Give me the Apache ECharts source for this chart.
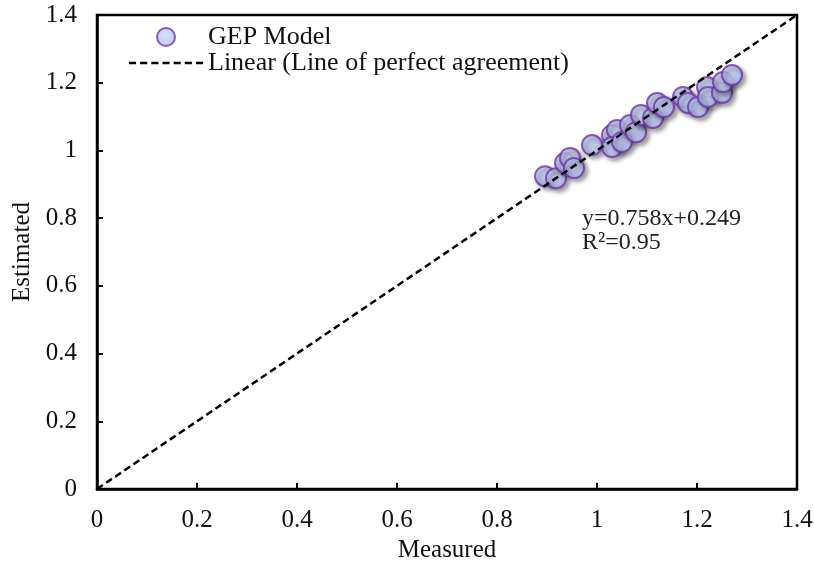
<!DOCTYPE html>
<html>
<head>
<meta charset="utf-8">
<script src="https://cdn.jsdelivr.net/npm/echarts@6/dist/echarts.min.js"></script>
<style>
html, body { margin: 0; padding: 0; background: #fff; }
#chart { width: 814px; height: 563px; }
</style>
</head>
<body>
<div id="chart"></div>
<script>
// measured vs estimated
var measured  = [0.896, 0.918, 0.936, 0.946, 0.954, 0.99, 1.03, 1.04, 1.03, 1.05, 1.066, 1.078, 1.088, 1.112, 1.12, 1.134, 1.172, 1.182, 1.202, 1.22, 1.222, 1.25, 1.252, 1.27];
var estimated = [0.924, 0.918, 0.963, 0.978, 0.948, 1.016, 1.045, 1.06, 1.01, 1.025, 1.075, 1.054, 1.105, 1.096, 1.14, 1.128, 1.158, 1.14, 1.128, 1.187, 1.158, 1.17, 1.202, 1.223];
var perfectLine = [[0, 0], [1.4, 1.4]];
var fitText = ['y=0.758x+0.249', 'R\u00b2=0.95'];

var pts = measured.map(function (m, i) { return [m, estimated[i]]; });

// dashed legend icon for the 1:1 line
var dashIcon = 'path://M0,0h7v2.5h-7z M11,0h7v2.5h-7z M22,0h7v2.5h-7z M33,0h7v2.5h-7z M44,0h7v2.5h-7z M55,0h7v2.5h-7z M66,0h7v2.5h-7z';

var font = '"Liberation Serif", "Times New Roman", serif';
var myChart = echarts.init(document.getElementById('chart'));
myChart.setOption({
    backgroundColor: '#fff',
    animation: false,
    grid: {
        left: 97, right: 17, top: 15, bottom: 74,
        containLabel: false, outerBoundsMode: 'none',
        show: true, borderColor: '#000', borderWidth: 2.5
    },
    legend: {
        orient: 'vertical',
        left: 124, top: 19,
        itemWidth: 74, itemHeight: 18, itemGap: 0,
        textStyle: { fontFamily: font, fontSize: 26, color: '#111' },
        data: [
            { name: 'GEP Model' },
            { name: 'Linear (Line of perfect agreement)', icon: dashIcon }
        ]
    },
    xAxis: {
        type: 'value', min: 0, max: 1.4, interval: 0.2,
        name: 'Measured', nameLocation: 'middle', nameGap: 43,
        nameTextStyle: { fontFamily: font, fontSize: 25, color: '#111' },
        axisLine: { lineStyle: { color: '#000', width: 2.5 } },
        axisTick: { inside: true, length: 6, lineStyle: { color: '#000', width: 2 } },
        axisLabel: { fontFamily: font, fontSize: 25, color: '#111', margin: 19 },
        splitLine: { show: false }
    },
    yAxis: {
        type: 'value', min: 0, max: 1.4, interval: 0.2,
        name: 'Estimated', nameLocation: 'middle', nameGap: 58,
        nameTextStyle: { fontFamily: font, fontSize: 25, color: '#111' },
        axisLine: { lineStyle: { color: '#000', width: 2.5 } },
        axisTick: { inside: true, length: 6, lineStyle: { color: '#000', width: 2 } },
        axisLabel: { fontFamily: font, fontSize: 25, color: '#111', margin: 20 },
        splitLine: { show: false }
    },
    series: [
        {
            name: 'Linear (Line of perfect agreement)',
            type: 'line',
            data: perfectLine,
            symbol: 'none',
            z: 3,
            itemStyle: { color: '#000' },
            lineStyle: { color: '#000', width: 2.5, type: [7, 4] }
        },
        {
            name: 'GEP Model',
            type: 'scatter',
            data: pts,
            symbolSize: 20,
            z: 2,
            itemStyle: {
                color: new echarts.graphic.RadialGradient(0.45, 0.4, 0.7, [
                    { offset: 0, color: '#cdd8f8' },
                    { offset: 1, color: '#a8baee' }
                ]),
                borderColor: '#7432b0',
                borderWidth: 2,
                shadowColor: 'rgba(0,0,0,0.45)',
                shadowBlur: 4,
                shadowOffsetX: 3,
                shadowOffsetY: 3
            }
        }
    ],
    graphic: [
        {
            type: 'text', left: 582, top: 207,
            style: { text: fitText.join('\n'), font: '24px ' + font, fill: '#222', lineHeight: 24 }
        }
    ]
});
</script>
</body>
</html>
